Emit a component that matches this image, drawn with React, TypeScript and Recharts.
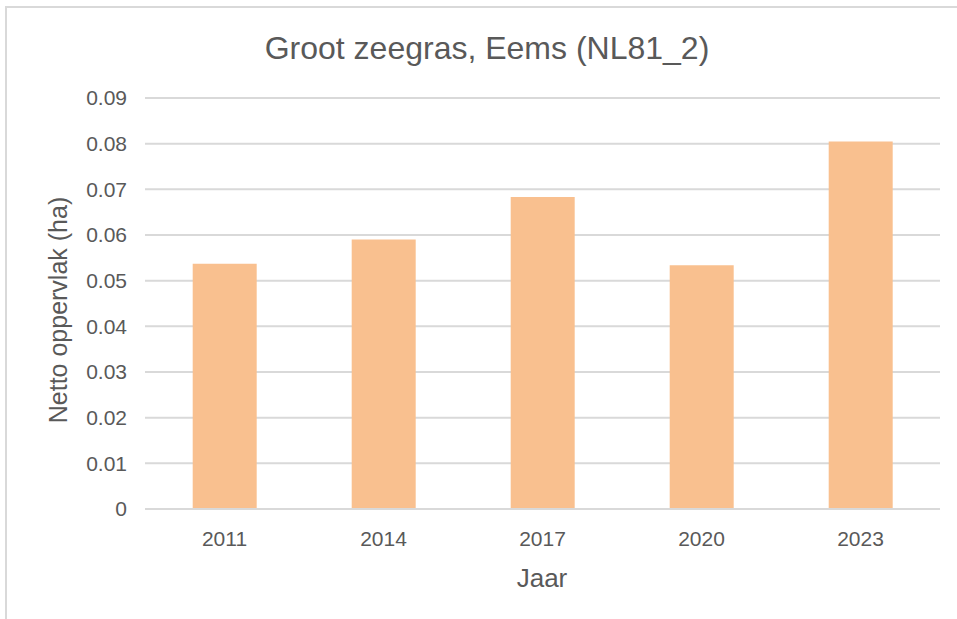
import React from "react";
import { BarChart, Bar, XAxis, YAxis, CartesianGrid } from "recharts";

const years = ["2011", "2014", "2017", "2020", "2023"];
const area = [0.0537, 0.059, 0.0683, 0.0534, 0.0805];
const yTicks = [0, 0.01, 0.02, 0.03, 0.04, 0.05, 0.06, 0.07, 0.08, 0.09];

const title = "Groot zeegras, Eems (NL81_2)";
const xTitle = "Jaar";
const yTitle = "Netto oppervlak (ha)";

const data = years.map((y, i) => ({ year: y, value: area[i] }));

const FONT = "'Liberation Sans', Arial, sans-serif";
const TEXT = "#595959";

export default function App() {
  return (
    <div
      style={{
        position: "absolute",
        width: 957,
        height: 619,
        top: 0,
        left: 0,
        overflow: "hidden",
        background: "#fff",
        fontFamily: FONT,
      }}
    >
      <div
        style={{
          position: "absolute",
          left: 5,
          top: 6,
          width: 1000,
          height: 700,
          boxSizing: "border-box",
          borderLeft: "2px solid #D9D9D9",
          borderTop: "2px solid #D9D9D9",
        }}
      />
      <div style={{ position: "absolute", left: 0, top: 0 }}>
        <BarChart
          width={957}
          height={619}
          data={data}
          margin={{ top: 98, right: 17, bottom: 80, left: 0 }}
          barCategoryGap="30%"
        >
          <CartesianGrid vertical={false} stroke="#D9D9D9" strokeWidth={2} />
          <XAxis
            dataKey="year"
            height={30}
            tickLine={false}
            tickSize={0}
            tickMargin={22}
            axisLine={{ stroke: "#D9D9D9", strokeWidth: 2 }}
            tick={{ fill: TEXT, fontSize: 21, fontFamily: FONT }}
          />
          <YAxis
            width={145}
            domain={[0, 0.09]}
            ticks={yTicks}
            interval={0}
            tickLine={false}
            tickSize={0}
            tickMargin={18}
            axisLine={false}
            tickFormatter={(v: number) => (v === 0 ? "0" : v.toFixed(2))}
            tick={{ fill: TEXT, fontSize: 21, fontFamily: FONT }}
          />
          <Bar dataKey="value" fill="#F9C08F" isAnimationActive={false} />
        </BarChart>
      </div>
      <div
        style={{
          position: "absolute",
          left: 0,
          width: 974,
          top: 29,
          textAlign: "center",
          fontSize: 32,
          color: TEXT,
          lineHeight: "38px",
        }}
      >
        {title}
      </div>
      <div
        style={{
          position: "absolute",
          left: 442,
          width: 200,
          top: 563,
          textAlign: "center",
          fontSize: 26,
          color: TEXT,
          lineHeight: "30px",
        }}
      >
        {xTitle}
      </div>
      <div
        style={{
          position: "absolute",
          left: 58 - 150,
          top: 310 - 15,
          width: 300,
          textAlign: "center",
          fontSize: 25,
          color: TEXT,
          lineHeight: "30px",
          transform: "rotate(-90deg)",
          transformOrigin: "150px 15px",
        }}
      >
        {yTitle}
      </div>
    </div>
  );
}
